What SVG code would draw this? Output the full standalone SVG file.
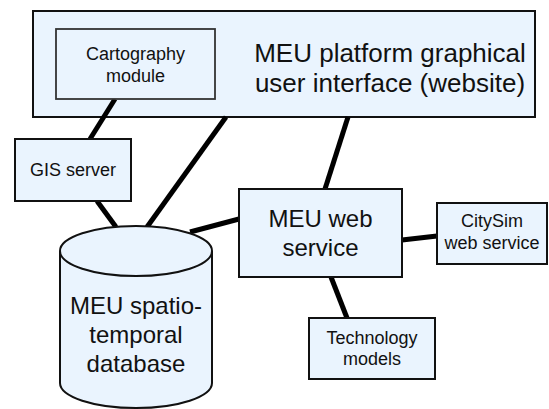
<svg xmlns="http://www.w3.org/2000/svg" width="549" height="409" viewBox="0 0 549 409">
<style>
.box{fill:#eaf4fe;stroke:#111;stroke-width:2}
.sub{fill:#eaf4fe;stroke:#333;stroke-width:1.8}
.con{stroke:#000;stroke-width:5;fill:none;stroke-linecap:butt}
text{font-family:"Liberation Sans",Arial,sans-serif;fill:#111;text-anchor:middle}
.big{font-size:24px}
.top{font-size:26px}
.sm{font-size:18px}
</style>
<rect width="549" height="409" fill="#fff"/>
<g id="gui">
<rect class="box" x="33" y="11" width="502" height="106"/>
<text class="top" x="390" y="62">MEU platform graphical</text>
<text class="top" x="390" y="92">user interface (website)</text>
</g>
<g id="connectors">
<line class="con" x1="115" y1="99" x2="90" y2="139"/>
<line class="con" x1="226" y1="117" x2="147" y2="227"/>
<line class="con" x1="348" y1="117" x2="325" y2="189"/>
<line class="con" x1="97" y1="201" x2="116" y2="227"/>
<line class="con" x1="190" y1="232" x2="239" y2="219"/>
<line class="con" x1="402" y1="240" x2="437" y2="236"/>
<line class="con" x1="331" y1="277" x2="347" y2="318"/>
</g>
<g id="cartography">
<rect class="sub" x="56" y="29" width="159" height="70"/>
<text class="sm" x="135.5" y="60">Cartography</text>
<text class="sm" x="135.5" y="82">module</text>
</g>
<g id="gis">
<rect class="box" x="15" y="139" width="116" height="62"/>
<text class="sm" x="73" y="176">GIS server</text>
</g>
<g id="database">
<path class="box" d="M60,251 V383 A76,25 0 0 0 212,383 V251 A76,25 0 0 0 60,251 Z"/>
<path class="box" d="M60,251 A76,25 0 0 0 212,251" fill="none"/>
<text class="big" x="136" y="314">MEU spatio-</text>
<text class="big" x="136" y="343">temporal</text>
<text class="big" x="136" y="372">database</text>
</g>
<g id="webservice">
<rect class="box" x="239" y="189" width="163" height="88"/>
<text class="big" x="320.5" y="227">MEU web</text>
<text class="big" x="320.5" y="256">service</text>
</g>
<g id="citysim">
<rect class="box" x="437" y="203" width="110" height="61"/>
<text class="sm" x="492" y="227">CitySim</text>
<text class="sm" x="492" y="249">web service</text>
</g>
<g id="technology">
<rect class="box" x="309" y="318" width="126" height="61"/>
<text class="sm" x="372" y="344">Technology</text>
<text class="sm" x="372" y="365">models</text>
</g>
</svg>
